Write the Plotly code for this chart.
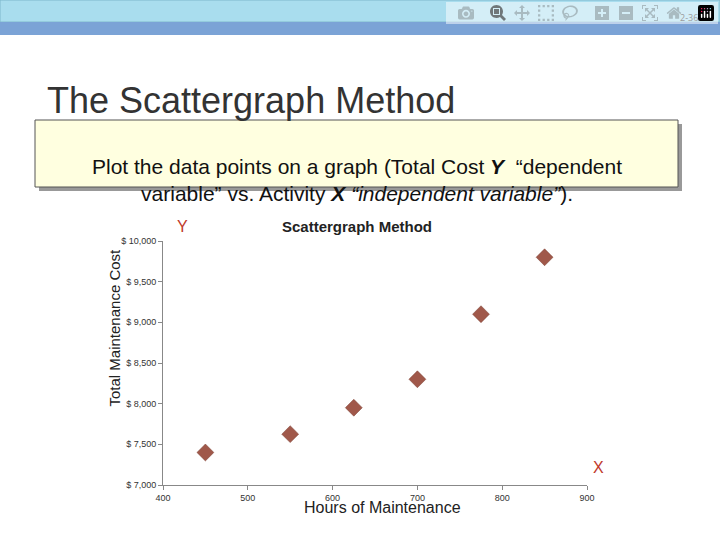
import plotly.graph_objects as go

hours = [450, 550, 625, 700, 775, 850]
cost = [7400, 7625, 7950, 8300, 9100, 9800]
y_ticks = [7000, 7500, 8000, 8500, 9000, 9500, 10000]
y_labels = ["$ 7,000", "$ 7,500", "$ 8,000", "$ 8,500", "$ 9,000", "$ 9,500", "$ 10,000"]
x_ticks = [400, 500, 600, 700, 800, 900]

L, R, T, B = 163, 587, 241, 485
def px(x): return (x - L) / (R - L)
def py(y): return (B - y) / (B - T)

fig = go.Figure(go.Scatter(x=hours, y=cost, mode="markers",
    marker=dict(symbol="diamond", size=13, color="#A0584A", line=dict(color="#7a3f33", width=0.5))))

shapes = [
    dict(type="rect", xref="paper", yref="paper", x0=px(0), x1=px(720), y0=py(0), y1=py(22),
         fillcolor="#A9DDEE", line=dict(color="#7fb8cc", width=1), layer="below"),
    dict(type="rect", xref="paper", yref="paper", x0=px(0), x1=px(720), y0=py(22), y1=py(35),
         fillcolor="#7BA3D6", line=dict(width=0), layer="below"),
    dict(type="rect", xref="paper", yref="paper", x0=px(39), x1=px(682), y0=py(124), y1=py(191),
         fillcolor="#999999", line=dict(width=0), layer="below"),
    dict(type="rect", xref="paper", yref="paper", x0=px(35), x1=px(678), y0=py(120), y1=py(187),
         fillcolor="#FFFFE0", line=dict(color="#555555", width=1), layer="below"),
]

def a(**kw):
    kw.setdefault("showarrow", False)
    return dict(xref="paper", yref="paper", **kw)

ann = [
    a(x=px(700), y=py(9), text="2-36", xanchor="right", font=dict(size=9, color="#333")),
    a(x=px(45), y=py(78), text="The Scattergraph Method", xanchor="left",
      font=dict(size=36, color="#333", family="Liberation Sans")),
    a(x=px(357), y=py(153), text="Plot the data points on a graph (Total Cost <b><i>Y</i></b>  “dependent<br>variable” vs. Activity <b><i>X</i></b> <i>“independent variable”</i>).",
      font=dict(size=21, color="#111", family="Liberation Sans")),
    a(x=px(357), y=py(216), text="<b>Scattergraph Method</b>",
      font=dict(size=15, color="#222", family="Liberation Sans")),
    a(x=px(175), y=py(216), text="Y", font=dict(size=16, color="#C0392B", family="Liberation Sans")),
    a(x=px(606), y=py(478), text="X", font=dict(size=16, color="#C0392B", family="Liberation Sans")),
    a(x=px(103), y=py(328), text="Total Maintenance Cost", textangle=-90,
      font=dict(size=15, color="#222", family="Liberation Sans")),
    a(x=px(382), y=py(518), text="Hours of Maintenance",
      font=dict(size=16, color="#222", family="Liberation Sans")),
]

fig.update_layout(
    width=720, height=540, margin=dict(l=L, r=720 - R, t=T, b=540 - B),
    paper_bgcolor="white", plot_bgcolor="white", showlegend=False,
    shapes=shapes, annotations=ann,
    xaxis=dict(range=[400, 900], tickvals=x_ticks, showgrid=False, zeroline=False, showline=True,
               linecolor="#888", ticks="outside", ticklen=4, tickcolor="#888",
               tickfont=dict(size=9, color="#333", family="Liberation Sans")),
    yaxis=dict(range=[7000, 10000], tickvals=y_ticks, ticktext=y_labels, showgrid=False, zeroline=False,
               showline=True, linecolor="#888", ticks="outside", ticklen=4, tickcolor="#888",
               tickfont=dict(size=9, color="#333", family="Liberation Sans")),
)
fig.write_html("out.html", post_script="document.body.style.margin='0';")
